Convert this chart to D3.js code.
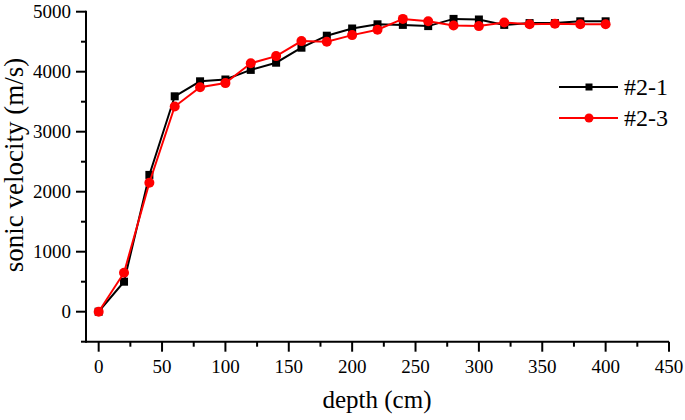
<!DOCTYPE html>
<html><head><meta charset="utf-8">
<script src="https://cdn.jsdelivr.net/npm/d3@7/dist/d3.min.js"></script>
</head><body style="margin:0"><svg id="c" width="685" height="420" font-family="Liberation Serif"></svg>
<script>
const depth = [0,20,40,60,80,100,120,140,160,180,200,220,240,260,280,300,320,340,360,380,400];
const s21 = [0,500,2280,3590,3840,3870,4030,4150,4400,4600,4720,4790,4780,4760,4880,4870,4780,4810,4810,4840,4840];
const s23 = [0,650,2150,3420,3740,3810,4140,4260,4510,4500,4610,4700,4880,4840,4770,4760,4820,4790,4800,4790,4790];
const seriesNames = ["#2-1","#2-3"];
const xTicks = [0,50,100,150,200,250,300,350,400,450];
const yTicks = [0,1000,2000,3000,4000,5000];

const FF = "Liberation Serif";
const svg = d3.select("#c");
const x = d3.scaleLinear().domain([-10,450]).range([86,669]);
const y = d3.scaleLinear().domain([-500,5000]).range([341.7,11.7]);

function txt(sel){ return sel.style("font-family",FF).attr("font-family",FF); }

// axes
const gx = svg.append("g").attr("transform","translate(0,341.7)");
gx.append("line").attr("x1",x(-10)).attr("x2",x(450)).attr("stroke","#000").attr("stroke-width",2);
const xMinor = d3.range(25,450,50);
gx.selectAll(".mx").data(xMinor).join("line").attr("x1",d=>x(d)).attr("x2",d=>x(d)).attr("y1",0).attr("y2",5).attr("stroke","#000").attr("stroke-width",2);
gx.selectAll(".Mx").data(xTicks).join("line").attr("x1",d=>x(d)).attr("x2",d=>x(d)).attr("y1",0).attr("y2",10).attr("stroke","#000").attr("stroke-width",2);
txt(gx.selectAll(".tx").data(xTicks).join("text")).attr("x",d=>x(d)).attr("y",31).attr("text-anchor","middle").attr("font-size",19).text(d=>d);

const gy = svg.append("g").attr("transform","translate(86,0)");
gy.append("line").attr("y1",y(-500)+1).attr("y2",y(5000)-1).attr("stroke","#000").attr("stroke-width",2);
const yMinor = d3.range(-500,5000,1000);
gy.selectAll(".my").data(yMinor).join("line").attr("y1",d=>y(d)).attr("y2",d=>y(d)).attr("x1",0).attr("x2",-5).attr("stroke","#000").attr("stroke-width",2);
gy.selectAll(".My").data(yTicks).join("line").attr("y1",d=>y(d)).attr("y2",d=>y(d)).attr("x1",0).attr("x2",-10).attr("stroke","#000").attr("stroke-width",2);
txt(gy.selectAll(".ty").data(yTicks).join("text")).attr("x",-15).attr("y",d=>y(d)).attr("dy","0.34em").attr("text-anchor","end").attr("font-size",19).text(d=>d);

txt(svg.append("text")).attr("x",377).attr("y",408).attr("text-anchor","middle").attr("font-size",25).text("depth (cm)");
txt(svg.append("text")).attr("transform","translate(23,165) rotate(-90)").attr("text-anchor","middle").attr("font-size",27).text("sonic velocity (m/s)");

const line = d3.line().x((d,i)=>x(depth[i])).y(d=>y(d));
// black series
svg.append("path").datum(s21).attr("d",line).attr("fill","none").attr("stroke","#000").attr("stroke-width",2);
svg.selectAll(".sq").data(s21).join("rect").attr("x",(d,i)=>x(depth[i])-4).attr("y",d=>y(d)-4).attr("width",8).attr("height",8).attr("fill","#000");
// red series
svg.append("path").datum(s23).attr("d",line).attr("fill","none").attr("stroke","#f00").attr("stroke-width",2);
svg.selectAll(".ci").data(s23).join("circle").attr("cx",(d,i)=>x(depth[i])).attr("cy",d=>y(d)).attr("r",5).attr("fill","#f00");

// legend
const lg = svg.append("g");
const ly = [87,118];
const lc = ["#000","#f00"];
seriesNames.forEach((n,i)=>{
  lg.append("line").attr("x1",559).attr("x2",618).attr("y1",ly[i]).attr("y2",ly[i]).attr("stroke",lc[i]).attr("stroke-width",2);
  if(i===0) lg.append("rect").attr("x",589-3.5).attr("y",ly[i]-3.5).attr("width",7).attr("height",7).attr("fill",lc[i]);
  else lg.append("circle").attr("cx",589).attr("cy",ly[i]).attr("r",4.5).attr("fill",lc[i]);
  txt(lg.append("text")).attr("x",624).attr("y",ly[i]).attr("dy","0.34em").attr("font-size",24).text(n);
});
</script></body></html>
